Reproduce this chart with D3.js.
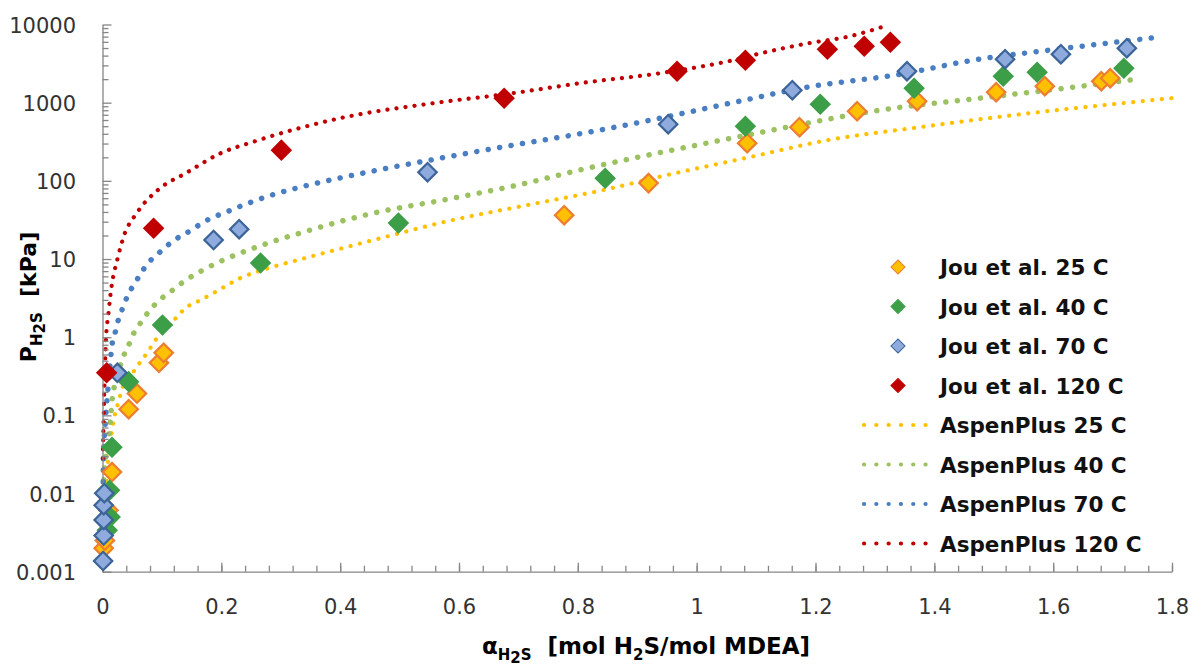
<!DOCTYPE html>
<html>
<head>
<meta charset="utf-8">
<script src="https://cdn.jsdelivr.net/npm/d3@7"></script>
<style>
  body { margin: 0; background: #fff; }
  text { font-family: 'DejaVu Sans', sans-serif; }
</style>
</head>
<body>
<svg id="chart" width="1190" height="666"></svg>
<script>
// measured data, Jou et al. (alpha, P kPa)
const jou25 = [
  [0.002, 0.002], [0.004, 0.0025], [0.010, 0.0061], [0.016, 0.0188], [0.044, 0.12], [0.058, 0.19],
  [0.095, 0.47], [0.103, 0.63], [0.777, 36.4], [0.919, 93.5], [1.085, 303], [1.173, 486],
  [1.270, 779], [1.371, 1045], [1.504, 1362], [1.586, 1626], [1.681, 1883], [1.696, 2057]
];
const jou40 = [
  [0.008, 0.0034], [0.013, 0.005], [0.012, 0.011], [0.016, 0.039], [0.044, 0.27], [0.101, 1.43],
  [0.266, 8.87], [0.498, 28.8], [0.846, 108], [1.082, 500], [1.208, 957], [1.366, 1532],
  [1.516, 2183], [1.573, 2455], [1.719, 2760]
];
const jou70 = [
  [0.001, 0.00137], [0.002, 0.0029], [0.002, 0.0046], [0.002, 0.0071], [0.003, 0.0101],
  [0.025, 0.35], [0.187, 17.5], [0.230, 24.1], [0.547, 129], [0.952, 531], [1.161, 1445],
  [1.354, 2530], [1.519, 3600], [1.613, 4170], [1.724, 4980]
];
const jou120 = [
  [0.007, 0.35], [0.086, 24.8], [0.301, 247], [0.676, 1142], [0.967, 2530], [1.082, 3494],
  [1.220, 4830], [1.282, 5280], [1.326, 5940]
];

// AspenPlus model curves
const aspen25 = [
  [0.001, 0.002], [0.004, 0.006], [0.008, 0.02], [0.013, 0.045], [0.017, 0.071], [0.020, 0.095],
  [0.027, 0.15], [0.034, 0.23], [0.047, 0.31], [0.055, 0.39], [0.066, 0.51], [0.077, 0.66],
  [0.087, 0.87], [0.111, 1.39], [0.126, 1.84], [0.138, 2.3], [0.165, 2.98], [0.193, 3.9],
  [0.232, 5.7], [0.278, 7.6], [0.333, 9.9],
  [0.456, 17.5], [0.585, 31], [0.715, 49], [0.838, 75], [0.961, 124], [1.085, 198],
  [1.220, 331], [1.376, 486], [1.533, 693], [1.667, 900], [1.800, 1142]
];
const aspen40 = [
  [0.002, 0.015], [0.006, 0.03], [0.010, 0.046], [0.013, 0.08], [0.017, 0.18], [0.022, 0.26],
  [0.034, 0.54], [0.044, 0.79], [0.052, 1.1], [0.064, 1.52], [0.076, 2.04], [0.089, 2.65],
  [0.103, 3.3], [0.120, 4.1], [0.136, 5.1], [0.173, 7.5], [0.210, 10.2], [0.246, 13.1],
  [0.283, 16.4], [0.321, 20.2], [0.456, 38.6], [0.580, 58], [0.698, 88], [0.816, 145],
  [0.934, 226], [1.073, 369], [1.152, 486], [1.309, 803], [1.477, 1142], [1.634, 1578],
  [1.741, 1995]
];
const aspen70 = [
  [0.001, 0.01], [0.002, 0.035], [0.005, 0.086], [0.010, 0.26], [0.013, 0.47], [0.016, 0.79],
  [0.022, 1.2], [0.026, 1.6], [0.034, 2.36], [0.042, 3.36], [0.052, 4.6], [0.064, 6.4],
  [0.075, 8.6], [0.091, 11.2], [0.106, 14.2], [0.123, 17.9], [0.141, 21.4], [0.176, 31.4],
  [0.212, 41], [0.249, 53], [0.288, 67], [0.333, 83], [0.446, 129], [0.569, 195],
  [0.691, 286], [0.809, 407], [0.922, 597], [1.057, 986], [1.186, 1578], [1.343, 2312],
  [1.465, 3494], [1.607, 4830], [1.777, 6870]
];
const aspen120 = [
  [0.0005, 0.028], [0.003, 0.2], [0.006, 0.99], [0.010, 2], [0.013, 3.3], [0.026, 10.6],
  [0.035, 18.7], [0.059, 40], [0.093, 76], [0.143, 129], [0.199, 226], [0.254, 316],
  [0.333, 476], [0.400, 634], [0.557, 986], [0.691, 1324], [0.804, 1776], [0.950, 2455],
  [1.061, 3494], [1.107, 4270], [1.186, 5720], [1.258, 7080], [1.321, 9780]
];

const xTicks = [0, 0.2, 0.4, 0.6, 0.8, 1, 1.2, 1.4, 1.6, 1.8];
const yTicks = [0.001, 0.01, 0.1, 1, 10, 100, 1000, 10000];

const markerSeries = [
  { name: 'Jou et al. 25 C', data: jou25, fill: '#FFC000', stroke: '#ED7D31' },
  { name: 'Jou et al. 40 C', data: jou40, fill: '#3D9E48', stroke: '#3D9E48' },
  { name: 'Jou et al. 70 C', data: jou70, fill: '#8FAADC', stroke: '#3B6499' },
  { name: 'Jou et al. 120 C', data: jou120, fill: '#C00000', stroke: '#C00000' }
];
const lineSeries = [
  { name: 'AspenPlus 25 C', data: aspen25, color: '#FFC000', w: 4.2, gap: 9.5 },
  { name: 'AspenPlus 40 C', data: aspen40, color: '#9BC160', w: 5.5, gap: 11.5 },
  { name: 'AspenPlus 70 C', data: aspen70, color: '#4A7EC2', w: 5.5, gap: 11.5 },
  { name: 'AspenPlus 120 C', data: aspen120, color: '#C00000', w: 4.2, gap: 9 }
];

const svg = d3.select('#chart');

const x = d3.scaleLinear().domain([0, 1.8]).range([102.5, 1172]);
const y = d3.scaleLog().domain([0.001, 10000]).range([571.7, 24.5]);

// model curves (dotted)
const line = d3.line()
  .x(d => x(d[0]))
  .y(d => y(d[1]))
  .curve(d3.curveMonotoneX);

svg.append('g')
  .selectAll('path')
  .data(lineSeries)
  .enter().append('path')
    .attr('d', d => line(d.data))
    .attr('fill', 'none')
    .attr('stroke', d => d.color)
    .attr('stroke-width', d => d.w)
    .attr('stroke-linecap', 'round')
    .attr('stroke-dasharray', d => `0.1 ${d.gap}`);

// axes
const axisColor = '#868686';

const xAxis = svg.append('g')
  .attr('transform', `translate(0,${y(0.001)})`)
  .call(d3.axisBottom(x)
    .tickValues(xTicks)
    .tickFormat(d3.format('~g'))
    .tickSizeInner(-9)
    .tickSizeOuter(0)
    .tickPadding(27));

svg.append('g')
  .attr('transform', `translate(0,${y(0.001)})`)
  .call(d3.axisBottom(x)
    .tickValues(d3.range(0, 1.8001, 0.04))
    .tickFormat('')
    .tickSizeInner(-6)
    .tickSizeOuter(0))
  .select('.domain').remove();

const yAxis = svg.append('g')
  .attr('transform', `translate(${x(0)},0)`)
  .call(d3.axisLeft(y)
    .tickValues(yTicks)
    .tickFormat(d => d3.format('~g')(d))
    .tickSizeInner(-9)
    .tickSizeOuter(0)
    .tickPadding(26.5));

const yMinor = [];
yTicks.slice(0, -1).forEach(t => {
  for (let k = 2; k <= 9; k++) yMinor.push(t * k);
});
svg.append('g')
  .attr('transform', `translate(${x(0)},0)`)
  .call(d3.axisLeft(y)
    .tickValues(yMinor)
    .tickFormat('')
    .tickSizeInner(-6)
    .tickSizeOuter(0))
  .select('.domain').remove();

svg.selectAll('.domain, .tick line')
  .attr('stroke', axisColor)
  .attr('stroke-width', 1.3);

xAxis.selectAll('text')
  .attr('font-size', 21)
  .attr('font-family', 'DejaVu Sans')
  .attr('fill', '#333');
yAxis.selectAll('text')
  .attr('font-size', 21)
  .attr('font-family', 'DejaVu Sans')
  .attr('dy', '0.36em')
  .attr('fill', '#333');

// experimental points (diamonds)
const diamond = d3.symbol().type(d3.symbolSquare).size(170);

markerSeries.forEach(s => {
  svg.append('g')
    .selectAll('path')
    .data(s.data)
    .enter().append('path')
      .attr('d', diamond)
      .attr('transform', d => `translate(${x(d[0])},${y(d[1])}) rotate(45)`)
      .attr('fill', s.fill)
      .attr('stroke', s.stroke)
      .attr('stroke-width', 2.2);
});

// axis titles
const xTitle = svg.append('text')
  .attr('x', 646)
  .attr('y', 654)
  .attr('text-anchor', 'middle')
  .attr('font-size', 23)
  .attr('font-weight', 'bold')
  .style('white-space', 'pre');
xTitle.append('tspan').text('α');
xTitle.append('tspan').attr('font-size', 15).attr('dy', 6).text('H');
xTitle.append('tspan').attr('font-size', 15).attr('dy', 3).text('2');
xTitle.append('tspan').attr('font-size', 15).attr('dy', -3).text('S');
xTitle.append('tspan').attr('dy', -6).text('  [mol H');
xTitle.append('tspan').attr('font-size', 15).attr('dy', 6).text('2');
xTitle.append('tspan').attr('dy', -6).text('S/mol MDEA]');

const yTitle = svg.append('text')
  .attr('transform', 'translate(36,297) rotate(-90)')
  .attr('text-anchor', 'middle')
  .attr('font-size', 22)
  .attr('font-weight', 'bold')
  .style('white-space', 'pre');
yTitle.append('tspan').text('P');
yTitle.append('tspan').attr('font-size', 15).attr('dy', 6).text('H');
yTitle.append('tspan').attr('font-size', 15).attr('dy', 3).text('2');
yTitle.append('tspan').attr('font-size', 15).attr('dy', -3).text('S');
yTitle.append('tspan').attr('dy', -6).text('  [kPa]');

// legend
const legend = svg.append('g');
const legMarker = d3.symbol().type(d3.symbolSquare).size(100);

const legM = legend.selectAll('.legM')
  .data(markerSeries)
  .enter().append('g')
    .attr('class', 'legM')
    .attr('transform', (d, i) => `translate(0,${267 + i * 39.5})`);
legM.append('path')
  .attr('d', legMarker)
  .attr('transform', 'translate(898,0) rotate(45)')
  .attr('fill', d => d.fill)
  .attr('stroke', d => d.stroke)
  .attr('stroke-width', 1);
legM.append('text')
  .attr('x', 940)
  .attr('y', 8)
  .attr('font-size', 21.5)
  .attr('font-weight', 'bold')
  .attr('fill', '#111')
  .text(d => d.name);

const legL = legend.selectAll('.legL')
  .data(lineSeries)
  .enter().append('g')
    .attr('class', 'legL')
    .attr('transform', (d, i) => `translate(0,${425 + i * 39.5})`);
legL.append('line')
  .attr('x1', 864)
  .attr('x2', 929)
  .attr('stroke', d => d.color)
  .attr('stroke-width', 4.2)
  .attr('stroke-linecap', 'round')
  .attr('stroke-dasharray', '0.1 12.2');
legL.append('text')
  .attr('x', 940)
  .attr('y', 8)
  .attr('font-size', 21.5)
  .attr('font-weight', 'bold')
  .attr('fill', '#111')
  .text(d => d.name);
</script>
</body>
</html>
